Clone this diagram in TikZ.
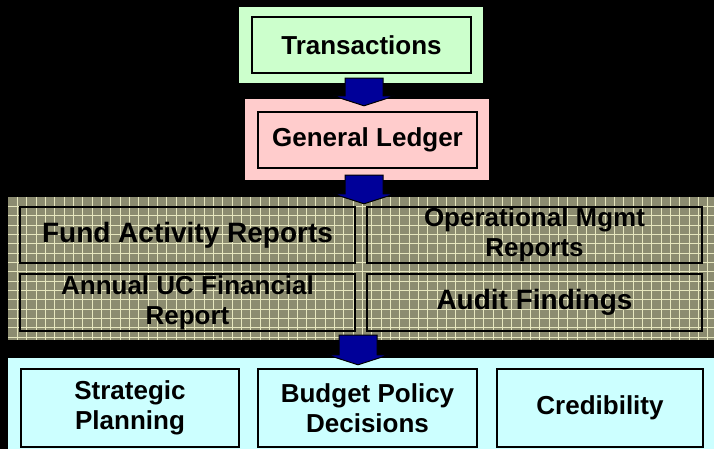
\documentclass[tikz,border=0pt]{standalone}
\usepackage{fontspec}
\setmainfont{Liberation Sans}
\usepackage{xcolor}
\usepackage{tikz}
\usetikzlibrary{positioning}
\usetikzlibrary{calc}
\definecolor{panelgreen}{HTML}{CCFFCC}
\definecolor{panelpink}{HTML}{FFCCCC}
\definecolor{panelcyan}{HTML}{CCFFFF}
\definecolor{panelolive}{HTML}{8C8C70}
\definecolor{gridline}{HTML}{E6E6BE}
\definecolor{arrowblue}{HTML}{000099}
\tikzstyle{panel}=[rectangle,inner sep=0pt,draw=none]
\tikzstyle{box}=[rectangle,draw=black,line width=2.5pt,inner sep=0pt,align=center]
\tikzstyle{bluearrow}=[draw=black,line width=1pt,fill=arrowblue]
\tikzstyle{gridrule}=[draw=gridline,line width=0.8pt]

\begin{document}
\begin{tikzpicture}[x=1pt,y=-1pt]
    \fill[black] (0,0) rectangle (714,449);
    \useasboundingbox (0,0) rectangle (714,449);
    % First we draw the coloured panels
    \foreach \pos/\name/\w/\h/\col in {{(361,45)/transpanel/244/76/panelgreen},
    {(367,139.5)/ledgerpanel/244/81/panelpink},
    {(361,268.5)/gridpanel/706/143/panelolive},
    {(361,403.5)/goalpanel/706/91/panelcyan}}
        \node[panel,fill=\col,minimum width=\w,minimum height=\h] (\name) at \pos {};

    % Grid texture on the reports panel
    \foreach \gx in {17.33,26.66,...,710}
        \path[gridrule] (\gx,0 |- gridpanel.north) -- (\gx,0 |- gridpanel.south);
    \foreach \gy in {206.33,215.66,...,338}
        \path[gridrule] (0,\gy -| gridpanel.west) -- (0,\gy -| gridpanel.east);

    % Block arrows between the panels
    \foreach \src/\dst/\dx in {transpanel/ledgerpanel/3, ledgerpanel/gridpanel/-3, gridpanel/goalpanel/-3}
        \draw[bluearrow] let \p1=($(\src.south)+(\dx,-5)$), \p2=($(\dst.north)+(0,7)$) in
            (\x1-19pt,\y1) -- (\x1+19pt,\y1) -- (\x1+19pt,\y2+10pt) -- (\x1+31pt,\y2+10pt)
            -- (\x1,\y2) -- (\x1-31pt,\y2+10pt) -- (\x1-19pt,\y2+10pt) -- cycle;

    % Then the boxes with their texts
    \foreach \pos/\name/\w/\h/\col/\fs/\label in {{(361.5,45)/trans/219/56/panelgreen/26/Transactions},
    {(367.5,140)/ledger/219/56/panelpink/26/General Ledger},
    {(187.5,235)/fund/335/56/none/28/Fund Activity Reports},
    {(534.5,235)/oper/335/56/none/26/Operational Mgmt\\Reports},
    {(187.5,302.5)/annual/335/57/none/26/Annual UC Financial\\Report},
    {(534.5,302.5)/audit/335/57/none/28/Audit Findings},
    {(130,408)/strategic/218/78/panelcyan/26/Strategic\\Planning},
    {(367.5,408)/budget/219/78/panelcyan/26/Budget Policy\\Decisions},
    {(600,408)/cred/206/78/panelcyan/26/Credibility}}
        \node[box,fill=\col,minimum width=\w,minimum height=\h,font=\fontsize{\fs}{30}\selectfont\bfseries] (\name) at \pos {\label};
\end{tikzpicture}
\end{document}
